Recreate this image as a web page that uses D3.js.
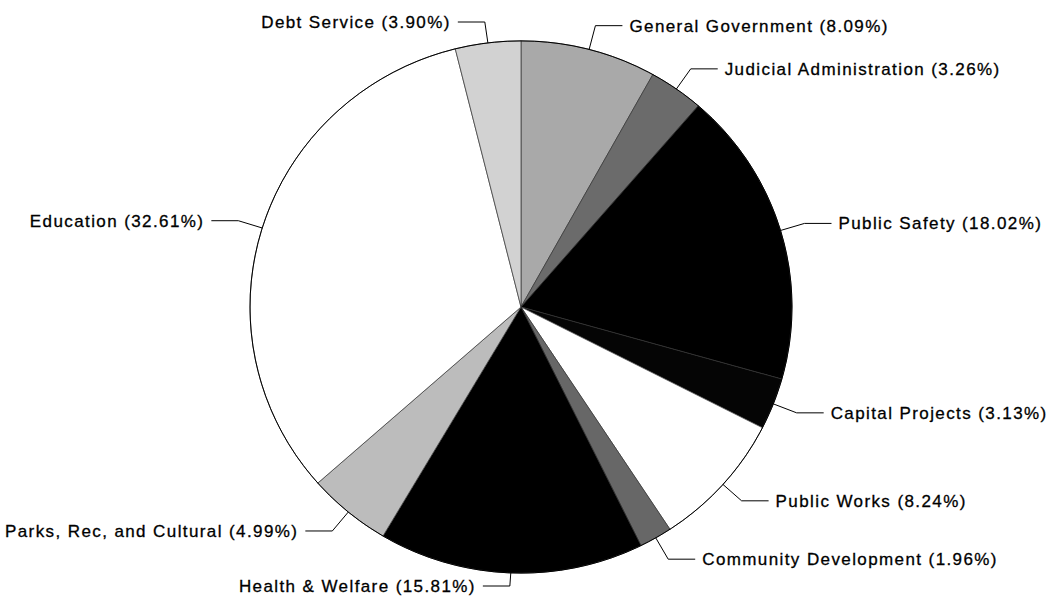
<!DOCTYPE html>
<head>
    <meta charset="utf-8" />
    <title>Expenditures by Function</title>
    <script src="https://d3js.org/d3.v7.min.js"></script>
    <style>
        body { margin: 0; background: #fff; }
        svg { display: block; }
        .label {
            font-family: "Liberation Sans", Arial, Helvetica, sans-serif;
            font-size: 17px;
            letter-spacing: 1.4px;
            fill: #000;
            stroke: #000;
            stroke-width: 0.3px;
        }
    </style>
</head>
<body>
<svg></svg>
<script>
    // values, clockwise from 12 o'clock
    let categories = ["General Government", "Judicial Administration", "Public Safety",
        "Capital Projects", "Public Works", "Community Development", "Health & Welfare",
        "Parks, Rec, and Cultural", "Education", "Debt Service"];
    let shares = [8.09, 3.26, 18.02, 3.13, 8.24, 1.96, 15.81, 4.99, 32.61, 3.90];
    let greys = ["#a9a9a9", "#6b6b6b", "#000000", "#050505", "#ffffff",
        "#676767", "#000000", "#bcbcbc", "#ffffff", "#d2d2d2"];

    let width = 1050, height = 598;
    let cx = 521, cy = 307, radius = 271;
    let squash = 0.982;   // the scan is a little flatter than it is wide

    let data = categories.map((c, i) => ({name: c, value: shares[i]}));

    let svg = d3.select("svg")
        .attr("width", width)
        .attr("height", height)
        .attr("viewBox", "0 0 " + width + " " + height);

    let fill = d3.scaleOrdinal().domain(categories).range(greys);

    let pie = d3.pie().sort(null).value(d => d.value);
    let arcs = pie(data);

    let arc = d3.arc().innerRadius(0).outerRadius(radius);
    let edge = d3.arc().innerRadius(radius).outerRadius(radius);
    let bend = d3.arc().innerRadius(radius + 25).outerRadius(radius + 25);

    let g = svg.append("g")
        .attr("transform", "translate(" + cx + "," + cy + ") scale(1," + squash + ")");

    g.selectAll("path.slice")
        .data(arcs)
        .enter().append("path")
        .attr("class", "slice")
        .attr("d", arc)
        .attr("fill", d => fill(d.data.name))
        .attr("stroke", "#333")
        .attr("stroke-width", 0.7)
        .attr("vector-effect", "non-scaling-stroke");

    g.append("circle")
        .attr("r", radius)
        .attr("fill", "none")
        .attr("stroke", "#000")
        .attr("stroke-width", 1)
        .attr("vector-effect", "non-scaling-stroke");

    function toPage(p) {
        return [cx + p[0], cy + p[1] * squash];
    }

    let labels = svg.append("g");

    arcs.forEach(function (d) {
        let mid = (d.startAngle + d.endAngle) / 2;
        let right = Math.sin(mid) > 0;
        let a = toPage(edge.centroid(d));
        let b = toPage(bend.centroid(d));
        // keep the bottom label inside the picture
        b[1] = Math.max(Math.min(b[1], height - 12), 22);
        let c = [b[0] + (right ? 27 : -27), b[1]];

        labels.append("path")
            .attr("d", d3.line()([a, b, c]))
            .attr("fill", "none")
            .attr("stroke", "#000")
            .attr("stroke-width", 1);

        labels.append("text")
            .attr("class", "label")
            .attr("x", c[0] + (right ? 7 : -7))
            .attr("y", c[1])
            .attr("dy", "0.35em")
            .attr("text-anchor", right ? "start" : "end")
            .text(d.data.name + " (" + d.data.value.toFixed(2) + "%)");
    });
</script>
</body>
